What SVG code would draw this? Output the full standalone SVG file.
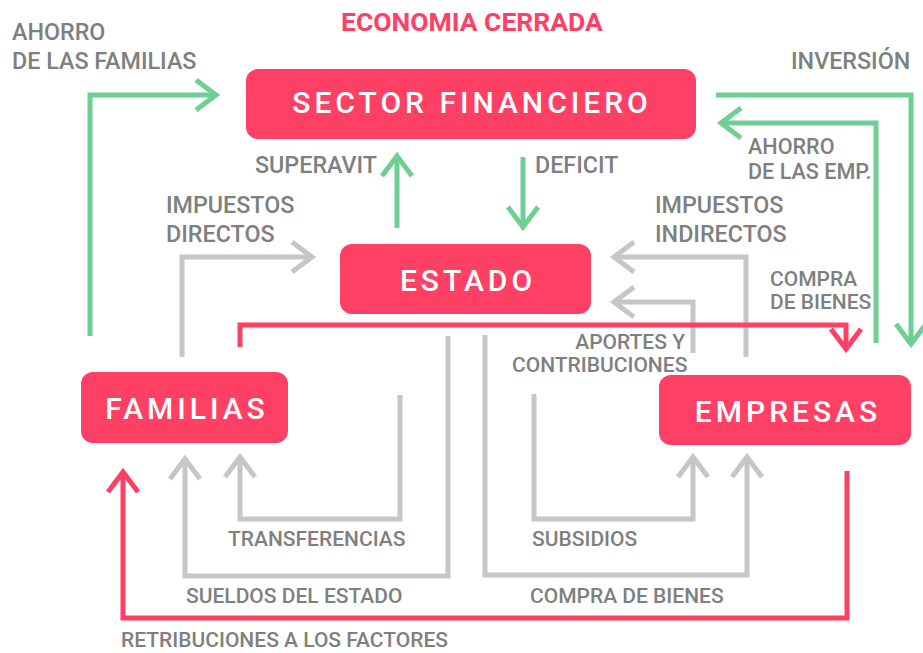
<svg xmlns="http://www.w3.org/2000/svg" width="923" height="653" viewBox="0 0 923 653">
<style>
.box{fill:#fe4064}
.nt{font-family:Roboto,"Liberation Sans",sans-serif;font-weight:500;font-size:30px;letter-spacing:4px;fill:#fff;text-anchor:middle}
.lb{font-family:Roboto,"Liberation Sans",sans-serif;font-weight:500;font-size:21px;fill:#7f7f7f}
.lg{font-size:23.3px}
.title{font-family:Roboto,"Liberation Sans",sans-serif;font-weight:700;font-size:26.5px;fill:#fe4064}
.c{fill:none;stroke-width:5;stroke-linejoin:miter;stroke-linecap:butt}
.g{stroke:#6ecf95}
.y{stroke:#c6c6c6}
.r{stroke:#fe4064}
</style>
<defs>
<marker id="ag" markerUnits="userSpaceOnUse" orient="auto" refX="0" refY="0" markerWidth="40" markerHeight="40" overflow="visible"><path d="M-20,-15 L0,0 L-20,15" fill="none" stroke="#6ecf95" stroke-width="5"/></marker>
<marker id="ay" markerUnits="userSpaceOnUse" orient="auto" refX="0" refY="0" markerWidth="40" markerHeight="40" overflow="visible"><path d="M-20,-15 L0,0 L-20,15" fill="none" stroke="#c6c6c6" stroke-width="5"/></marker>
<marker id="ar" markerUnits="userSpaceOnUse" orient="auto" refX="0" refY="0" markerWidth="40" markerHeight="40" overflow="visible"><path d="M-20,-15 L0,0 L-20,15" fill="none" stroke="#fe4064" stroke-width="5"/></marker>
</defs>
<text class="title" x="341" y="31">ECONOMIA CERRADA</text>
<g id="connectors">
<path class="c g" d="M90,336 V95 H216" marker-end="url(#ag)"/>
<path class="c g" d="M397,228 V156" marker-end="url(#ag)"/>
<path class="c g" d="M523,157 V227" marker-end="url(#ag)"/>
<path class="c g" d="M716,95 H911 V344" marker-end="url(#ag)"/>
<path class="c g" d="M876,343 V123 H721" marker-end="url(#ag)"/>
<path class="c y" d="M182,357 V257 H312" marker-end="url(#ay)"/>
<path class="c y" d="M746,357 V257 H614" marker-end="url(#ay)"/>
<path class="c y" d="M693,353 V302 H614" marker-end="url(#ay)"/>
<path class="c y" d="M400,395 V519 H240 V457" marker-end="url(#ay)"/>
<path class="c y" d="M448,336 V576 H185 V459" marker-end="url(#ay)"/>
<path class="c y" d="M534,394 V519 H693 V457" marker-end="url(#ay)"/>
<path class="c y" d="M485,335 V575 H747 V457" marker-end="url(#ay)"/>
<path class="c r" d="M240,347 V325 H846 V349" marker-end="url(#ar)"/>
<path class="c r" d="M847,471 V618 H123 V472" marker-end="url(#ar)"/>
</g>
<g id="labels">
<text class="lb lg" x="12" y="40">AHORRO</text>
<text class="lb lg" x="12" y="69">DE LAS FAMILIAS</text>
<text class="lb lg" x="255" y="173">SUPERAVIT</text>
<text class="lb lg" x="166" y="213">IMPUESTOS</text>
<text class="lb lg" x="166" y="242">DIRECTOS</text>
<text class="lb lg" x="535" y="173">DEFICIT</text>
<text class="lb lg" x="791" y="69">INVERSIÓN</text>
<text class="lb" x="748" y="154" style="font-size:21.6px">AHORRO</text>
<text class="lb" x="748" y="179" style="font-size:21.6px">DE LAS EMP.</text>
<text class="lb lg" x="655" y="213">IMPUESTOS</text>
<text class="lb lg" x="655" y="242">INDIRECTOS</text>
<text class="lb" x="770" y="286">COMPRA</text>
<text class="lb" x="770" y="309">DE BIENES</text>
<text class="lb" x="685" y="349" text-anchor="end">APORTES Y</text>
<text class="lb" x="512" y="372">CONTRIBUCIONES</text>
<text class="lb" x="228" y="546">TRANSFERENCIAS</text>
<text class="lb" x="532" y="546">SUBSIDIOS</text>
<text class="lb" x="186" y="603">SUELDOS DEL ESTADO</text>
<text class="lb" x="530" y="603">COMPRA DE BIENES</text>
<text class="lb" x="121" y="647">RETRIBUCIONES A LOS FACTORES</text>
</g>
<g id="sector-financiero">
<rect class="box" x="246" y="69" width="450" height="70" rx="12"/>
<text class="nt" x="472" y="113">SECTOR FINANCIERO</text>
</g>
<g id="estado">
<rect class="box" x="340" y="244" width="251" height="70" rx="12"/>
<text class="nt" x="468" y="291">ESTADO</text>
</g>
<g id="familias">
<rect class="box" x="81" y="372" width="207" height="71" rx="12"/>
<text class="nt" x="187" y="419">FAMILIAS</text>
</g>
<g id="empresas">
<rect class="box" x="659" y="375" width="252" height="70" rx="12"/>
<text class="nt" x="788" y="422">EMPRESAS</text>
</g>
</svg>
